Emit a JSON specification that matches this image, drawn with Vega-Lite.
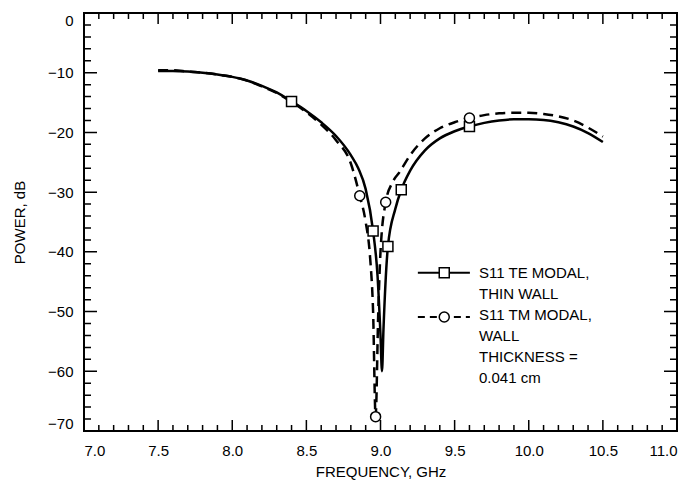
{
  "$schema": "https://vega.github.io/schema/vega-lite/v6.json",
  "width": 593,
  "height": 418,
  "autosize": {"type": "none"},
  "padding": {"left": 84, "top": 13, "right": 6, "bottom": 57},
  "background": "white",
  "config": {
    "font": "Liberation Sans",
    "view": {"stroke": "black", "strokeWidth": 2},
    "axis": {
      "domain": false, "ticks": false, "grid": false,
      "labelColor": "black", "labelFontSize": 15, "labelFont": "Liberation Sans",
      "titleColor": "black", "titleFontSize": 15, "titleFontWeight": "normal", "titleFont": "Liberation Sans"
    }
  },
  "datasets": {
    "te_line": [
      {"series": "TE", "f": 7.5, "dB": -9.7}, {"series": "TE", "f": 7.6, "dB": -9.7}, {"series": "TE", "f": 7.7, "dB": -9.8},
      {"series": "TE", "f": 7.8, "dB": -10.0}, {"series": "TE", "f": 7.9, "dB": -10.3}, {"series": "TE", "f": 8.0, "dB": -10.7},
      {"series": "TE", "f": 8.1, "dB": -11.3}, {"series": "TE", "f": 8.2, "dB": -12.2}, {"series": "TE", "f": 8.3, "dB": -13.3},
      {"series": "TE", "f": 8.4, "dB": -14.8}, {"series": "TE", "f": 8.5, "dB": -16.4}, {"series": "TE", "f": 8.6, "dB": -18.3},
      {"series": "TE", "f": 8.7, "dB": -20.6}, {"series": "TE", "f": 8.8, "dB": -23.8}, {"series": "TE", "f": 8.85, "dB": -26.0},
      {"series": "TE", "f": 8.9, "dB": -29.5}, {"series": "TE", "f": 8.95, "dB": -36.5}, {"series": "TE", "f": 8.98, "dB": -44},
      {"series": "TE", "f": 9.0, "dB": -54}, {"series": "TE", "f": 9.01, "dB": -60}, {"series": "TE", "f": 9.02, "dB": -53},
      {"series": "TE", "f": 9.05, "dB": -39.1}, {"series": "TE", "f": 9.1, "dB": -32.8}, {"series": "TE", "f": 9.14, "dB": -29.6},
      {"series": "TE", "f": 9.2, "dB": -26.4}, {"series": "TE", "f": 9.3, "dB": -23.0}, {"series": "TE", "f": 9.4, "dB": -21.0},
      {"series": "TE", "f": 9.5, "dB": -19.8}, {"series": "TE", "f": 9.6, "dB": -19.0}, {"series": "TE", "f": 9.7, "dB": -18.4},
      {"series": "TE", "f": 9.8, "dB": -18.0}, {"series": "TE", "f": 9.9, "dB": -17.8}, {"series": "TE", "f": 10.0, "dB": -17.8},
      {"series": "TE", "f": 10.1, "dB": -17.9}, {"series": "TE", "f": 10.2, "dB": -18.3}, {"series": "TE", "f": 10.3, "dB": -19.0},
      {"series": "TE", "f": 10.4, "dB": -20.1}, {"series": "TE", "f": 10.5, "dB": -21.6}
    ],
    "tm_line": [
      {"series": "TM", "f": 7.5, "dB": -9.6}, {"series": "TM", "f": 7.6, "dB": -9.6}, {"series": "TM", "f": 7.7, "dB": -9.8},
      {"series": "TM", "f": 7.8, "dB": -10.0}, {"series": "TM", "f": 7.9, "dB": -10.3}, {"series": "TM", "f": 8.0, "dB": -10.7},
      {"series": "TM", "f": 8.1, "dB": -11.3}, {"series": "TM", "f": 8.2, "dB": -12.3}, {"series": "TM", "f": 8.3, "dB": -13.4},
      {"series": "TM", "f": 8.4, "dB": -14.9}, {"series": "TM", "f": 8.5, "dB": -16.6}, {"series": "TM", "f": 8.6, "dB": -18.7},
      {"series": "TM", "f": 8.7, "dB": -21.3}, {"series": "TM", "f": 8.8, "dB": -25.2}, {"series": "TM", "f": 8.86, "dB": -30.6},
      {"series": "TM", "f": 8.9, "dB": -35}, {"series": "TM", "f": 8.93, "dB": -41}, {"series": "TM", "f": 8.95, "dB": -50},
      {"series": "TM", "f": 8.967, "dB": -67.6}, {"series": "TM", "f": 8.985, "dB": -50}, {"series": "TM", "f": 9.0, "dB": -40},
      {"series": "TM", "f": 9.035, "dB": -31.7}, {"series": "TM", "f": 9.08, "dB": -28.4}, {"series": "TM", "f": 9.13, "dB": -26.6},
      {"series": "TM", "f": 9.2, "dB": -23.8}, {"series": "TM", "f": 9.3, "dB": -21.0}, {"series": "TM", "f": 9.4, "dB": -19.3},
      {"series": "TM", "f": 9.5, "dB": -18.3}, {"series": "TM", "f": 9.6, "dB": -17.6}, {"series": "TM", "f": 9.7, "dB": -17.1},
      {"series": "TM", "f": 9.8, "dB": -16.8}, {"series": "TM", "f": 9.9, "dB": -16.7}, {"series": "TM", "f": 10.0, "dB": -16.7},
      {"series": "TM", "f": 10.1, "dB": -16.9}, {"series": "TM", "f": 10.2, "dB": -17.3}, {"series": "TM", "f": 10.3, "dB": -18.0},
      {"series": "TM", "f": 10.4, "dB": -19.2}, {"series": "TM", "f": 10.5, "dB": -20.7}
    ],
    "te_markers": [
      {"series": "TE", "f": 8.4, "dB": -14.8}, {"series": "TE", "f": 8.95, "dB": -36.5}, {"series": "TE", "f": 9.05, "dB": -39.1},
      {"series": "TE", "f": 9.14, "dB": -29.6}, {"series": "TE", "f": 9.6, "dB": -19.0}
    ],
    "tm_markers": [
      {"series": "TM", "f": 8.86, "dB": -30.6}, {"series": "TM", "f": 8.967, "dB": -67.6}, {"series": "TM", "f": 9.035, "dB": -31.7},
      {"series": "TM", "f": 9.6, "dB": -17.6}
    ],
    "key_te": [{"series": "TE"}],
    "key_tm": [{"series": "TM"}],
    "x_major": [{"f": 7.0}, {"f": 7.5}, {"f": 8.0}, {"f": 8.5}, {"f": 9.0}, {"f": 9.5}, {"f": 10.0}, {"f": 10.5}, {"f": 11.0}],
    "x_minor": [{"f": 7.1}, {"f": 7.2}, {"f": 7.3}, {"f": 7.4}, {"f": 7.6}, {"f": 7.7}, {"f": 7.8}, {"f": 7.9},
                {"f": 8.1}, {"f": 8.2}, {"f": 8.3}, {"f": 8.4}, {"f": 8.6}, {"f": 8.7}, {"f": 8.8}, {"f": 8.9},
                {"f": 9.1}, {"f": 9.2}, {"f": 9.3}, {"f": 9.4}, {"f": 9.6}, {"f": 9.7}, {"f": 9.8}, {"f": 9.9},
                {"f": 10.1}, {"f": 10.2}, {"f": 10.3}, {"f": 10.4}, {"f": 10.6}, {"f": 10.7}, {"f": 10.8}, {"f": 10.9}],
    "y_major": [{"dB": 0}, {"dB": -10}, {"dB": -20}, {"dB": -30}, {"dB": -40}, {"dB": -50}, {"dB": -60}, {"dB": -70}],
    "y_minor": [{"dB": -2}, {"dB": -4}, {"dB": -6}, {"dB": -8}, {"dB": -12}, {"dB": -14}, {"dB": -16}, {"dB": -18},
                {"dB": -22}, {"dB": -24}, {"dB": -26}, {"dB": -28}, {"dB": -32}, {"dB": -34}, {"dB": -36}, {"dB": -38},
                {"dB": -42}, {"dB": -44}, {"dB": -46}, {"dB": -48}, {"dB": -52}, {"dB": -54}, {"dB": -56}, {"dB": -58},
                {"dB": -62}, {"dB": -64}, {"dB": -66}, {"dB": -68}]
  },
  "layer": [
    {
      "data": {"name": "te_line"},
      "mark": {"type": "line", "color": "black", "strokeWidth": 2.5, "interpolate": "monotone"},
      "encoding": {
        "x": {
          "field": "f", "type": "quantitative",
          "scale": {"domain": [7, 11], "nice": false, "zero": false},
          "axis": {
            "orient": "bottom", "title": "FREQUENCY, GHz", "format": ".1f",
            "values": [7.0, 7.5, 8.0, 8.5, 9.0, 9.5, 10.0, 10.5, 11.0],
            "labelPadding": 12, "labelOverlap": false, "labelFlush": true, "titlePadding": 6
          }
        },
        "y": {
          "field": "dB", "type": "quantitative",
          "scale": {"domain": [-70, 0], "nice": false, "zero": false},
          "axis": {
            "orient": "left", "title": "POWER, dB", "format": "d",
            "values": [0, -10, -20, -30, -40, -50, -60, -70],
            "labelPadding": 11, "labelOverlap": false, "labelFlush": true, "titlePadding": 20
          }
        }
      }
    },
    {
      "data": {"name": "tm_line"},
      "mark": {"type": "line", "color": "black", "strokeWidth": 2.5, "strokeDash": [10, 6], "interpolate": "monotone"},
      "encoding": {
        "x": {"field": "f", "type": "quantitative", "axis": null},
        "y": {"field": "dB", "type": "quantitative", "axis": null}
      }
    },
    {
      "data": {"name": "te_markers"},
      "mark": {"type": "point", "filled": true, "fill": "white", "stroke": "black", "strokeWidth": 1.5, "size": 100, "opacity": 1},
      "encoding": {
        "x": {"field": "f", "type": "quantitative", "axis": null},
        "y": {"field": "dB", "type": "quantitative", "axis": null},
        "shape": {
          "field": "series", "type": "nominal",
          "scale": {"domain": ["TE", "TM"], "range": ["square", "circle"]},
          "legend": {
            "orient": "none", "legendX": 355, "legendY": 252, "padding": 0, "title": null,
            "rowPadding": 5, "labelOffset": 25, "labelFontSize": 15, "labelLimit": 400, "labelColor": "black",
            "labelBaseline": "alphabetic", "symbolSize": 100, "symbolOpacity": 0,
            "labelExpr": "datum.value == 'TE' ? ['S11 TE MODAL,', 'THIN WALL'] : ['S11 TM MODAL,', 'WALL', 'THICKNESS =', '0.041 cm']",
            "encoding": {
              "labels": {
                "lineHeight": {"value": 21},
                "dy": {"value": 5}
              }
            }
          }
        }
      }
    },
    {
      "data": {"name": "tm_markers"},
      "mark": {"type": "point", "filled": true, "fill": "white", "stroke": "black", "strokeWidth": 1.5, "size": 100, "opacity": 1},
      "encoding": {
        "x": {"field": "f", "type": "quantitative", "axis": null},
        "y": {"field": "dB", "type": "quantitative", "axis": null},
        "shape": {
          "field": "series", "type": "nominal",
          "scale": {"domain": ["TE", "TM"], "range": ["square", "circle"]}
        }
      }
    },
    {
      "data": {"name": "key_te"},
      "mark": {"type": "rule", "color": "black", "strokeWidth": 2},
      "encoding": {
        "x": {"datum": 9.252, "type": "quantitative", "axis": null},
        "x2": {"datum": 9.603},
        "y": {"datum": -43.5, "type": "quantitative", "axis": null}
      }
    },
    {
      "data": {"name": "key_tm"},
      "mark": {"type": "rule", "color": "black", "strokeWidth": 2, "strokeDash": [7, 5]},
      "encoding": {
        "x": {"datum": 9.252, "type": "quantitative", "axis": null},
        "x2": {"datum": 9.603},
        "y": {"datum": -50.9, "type": "quantitative", "axis": null}
      }
    },
    {
      "data": {"name": "key_te"},
      "mark": {"type": "point", "shape": "square", "filled": true, "fill": "white", "stroke": "black", "strokeWidth": 1.5, "size": 100, "opacity": 1},
      "encoding": {
        "x": {"datum": 9.43, "type": "quantitative", "axis": null},
        "y": {"datum": -43.5, "type": "quantitative", "axis": null}
      }
    },
    {
      "data": {"name": "key_tm"},
      "mark": {"type": "point", "shape": "circle", "filled": true, "fill": "white", "stroke": "black", "strokeWidth": 1.5, "size": 100, "opacity": 1},
      "encoding": {
        "x": {"datum": 9.43, "type": "quantitative", "axis": null},
        "y": {"datum": -50.9, "type": "quantitative", "axis": null}
      }
    },
    {
      "data": {"name": "x_major"},
      "mark": {"type": "point", "shape": "M0,209V198M0,-209V-198", "filled": false, "stroke": "black", "strokeWidth": 1.5, "size": 4, "opacity": 1},
      "encoding": {
        "x": {"field": "f", "type": "quantitative", "axis": null},
        "y": {"datum": -35, "type": "quantitative", "axis": null}
      }
    },
    {
      "data": {"name": "x_minor"},
      "mark": {"type": "point", "shape": "M0,209V203M0,-209V-203", "filled": false, "stroke": "black", "strokeWidth": 1.5, "size": 4, "opacity": 1},
      "encoding": {
        "x": {"field": "f", "type": "quantitative", "axis": null},
        "y": {"datum": -35, "type": "quantitative", "axis": null}
      }
    },
    {
      "data": {"name": "y_major"},
      "mark": {"type": "point", "shape": "M-296.5,0H-283.5M296.5,0H283.5", "filled": false, "stroke": "black", "strokeWidth": 1.5, "size": 4, "opacity": 1},
      "encoding": {
        "y": {"field": "dB", "type": "quantitative", "axis": null},
        "x": {"datum": 9, "type": "quantitative", "axis": null}
      }
    },
    {
      "data": {"name": "y_minor"},
      "mark": {"type": "point", "shape": "M-296.5,0H-289.5M296.5,0H289.5", "filled": false, "stroke": "black", "strokeWidth": 1.5, "size": 4, "opacity": 1},
      "encoding": {
        "y": {"field": "dB", "type": "quantitative", "axis": null},
        "x": {"datum": 9, "type": "quantitative", "axis": null}
      }
    }
  ],
  "resolve": {"axis": {"x": "independent", "y": "independent"}}
}
